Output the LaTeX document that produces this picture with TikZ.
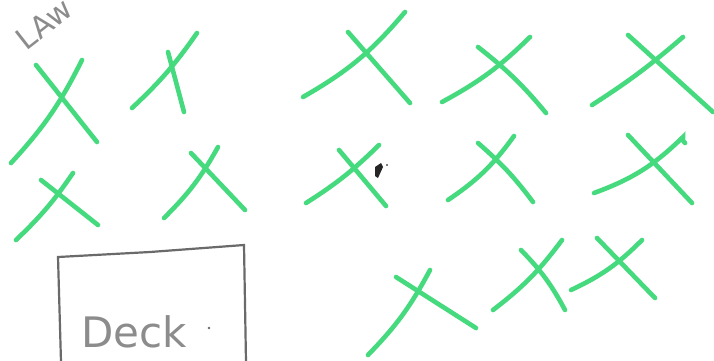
\documentclass[tikz,border=0pt]{standalone}
\usepackage{fontspec}
\setsansfont{DejaVu Sans}
\definecolor{marker}{HTML}{45DA7E}
\definecolor{pencil}{HTML}{6A6A6A}
\definecolor{lead}{HTML}{8C8C8C}

\begin{document}
\begin{tikzpicture}[x=1pt,y=-1pt,font=\sffamily,
    mark stroke/.style={marker,line width=4.6pt,line cap=round},
    pencil line/.style={pencil,line width=2.2pt,line cap=round}]
  \useasboundingbox (0,0) rectangle (714,360);
  \fill[white] (0,0) rectangle (714,360);

  % heading scribbled in the corner
  \begin{scope}
    \clip (0,0) rectangle (714,360);
    \node[lead,font=\sffamily\fontsize{30}{30}\selectfont,rotate=38] (lawn)
      at (44,24) {LAw};
  \end{scope}

  % top row of crosses
  \draw[mark stroke] (11,163) to[bend right=8] (82,60);
  \draw[mark stroke] (36,65) -- (97,142);
  \draw[mark stroke] (132,108) to[bend right=6] (197,33);
  \draw[mark stroke] (168,52) -- (184,112);
  \draw[mark stroke] (303,97) to[bend right=10] (405,12);
  \draw[mark stroke] (348,32) -- (410,103);
  \draw[mark stroke] (442,102) to[bend right=8] (530,37);
  \draw[mark stroke] (478,47) to[bend left=6] (546,113);
  \draw[mark stroke] (592,105) to[bend right=4] (683,37);
  \draw[mark stroke] (628,35) -- (713,112);

  % second row
  \draw[mark stroke] (16,240) to[bend right=6] (73,173);
  \draw[mark stroke] (41,180) -- (98,225);
  \draw[mark stroke] (164,218) to[bend right=8] (218,147);
  \draw[mark stroke] (191,153) -- (245,210);
  \draw[mark stroke] (306,203) to[bend right=6] (379,145);
  \draw[mark stroke] (339,150) -- (386,206);
  \draw[mark stroke] (448,200) to[bend right=10] (514,136);
  \draw[mark stroke] (478,143) to[bend left=6] (533,202);
  \draw[mark stroke] (594,193) to[bend right=12] (683,137)
    to[bend right=40] (685,143);
  \draw[mark stroke] (628,135) -- (692,203);

  % stray pen mark
  \fill[black!85] (375,167) -- (381,163) -- (383,167) -- (378,178) -- (375,176) -- cycle;
  \fill[black] (387,165) circle (0.9);

  % bottom group
  \draw[mark stroke] (368,355) to[bend right=8] (430,270);
  \draw[mark stroke] (396,277) -- (476,328);
  \draw[mark stroke] (493,310) to[bend right=8] (562,240);
  \draw[mark stroke] (521,250) to[bend left=8] (565,310);
  \draw[mark stroke] (571,290) to[bend right=10] (642,240);
  \draw[mark stroke] (597,238) -- (655,298);

  % the deck
  \draw[pencil line] (61,362) -- (58,257) -- (150,252) -- (244,245) -- (246,362);
  \node[lead,font=\sffamily\fontsize{42}{42}\selectfont,anchor=base west] (deck)
    at (78,347) {Deck};
  \fill[pencil] (209,328) circle (1.3);
\end{tikzpicture}
\end{document}
